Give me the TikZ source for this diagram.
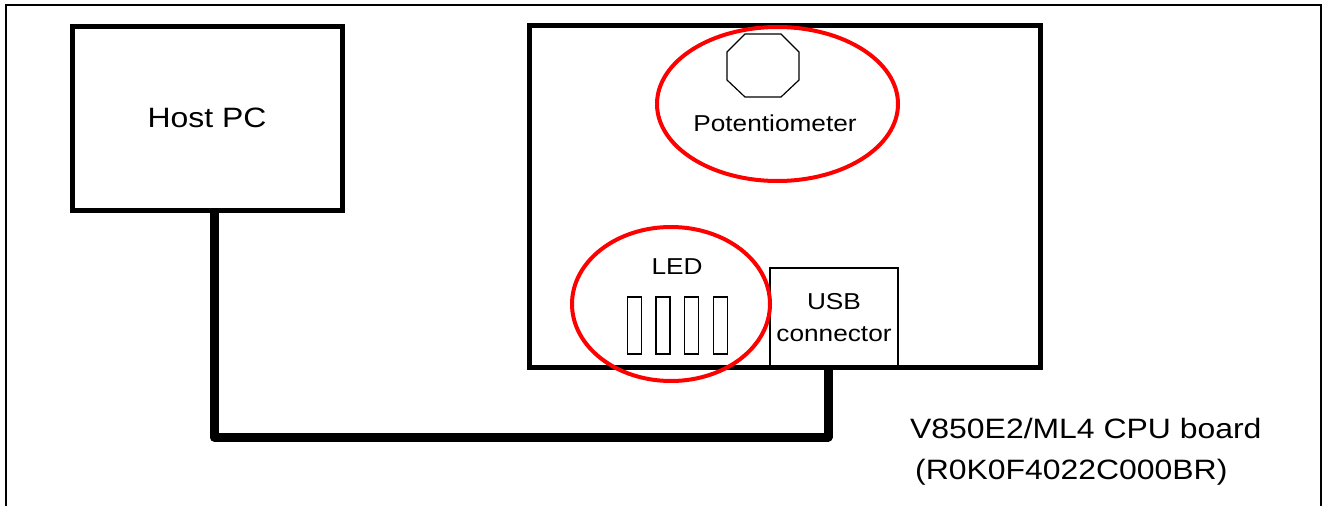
\documentclass[tikz,border=0pt]{standalone}
\usepackage{fontspec}
\setmainfont{Liberation Sans}[FakeStretch=1.14]
\usetikzlibrary{positioning}

\begin{document}
\begin{tikzpicture}[
    x=1pt, y=-1pt,
    box style/.style={draw, line width=5pt, inner sep=0pt},
    part style/.style={draw, line width=1.5pt, inner sep=0pt},
    led style/.style={draw, line width=1.2pt, inner sep=0pt,
        minimum width=14pt, minimum height=57pt},
    ring style/.style={draw=red, line width=4pt},
    cable style/.style={draw, line width=9pt, line join=round},
    big text/.style={font=\fontsize{28}{41}\selectfont},
    small text/.style={font=\fontsize{23}{32}\selectfont}
]

% SAME BOUNDING BOX
\path[use as bounding box] (0,0) rectangle (1326,506);

% FRAME
\draw[line width=2pt] (5.5,506) -- (5.5,5) -- (1321,5) -- (1321,506);

\node[box style, big text, minimum width=270pt, minimum height=184pt] (host) at (207,118) {Host PC};
\node[box style, minimum width=511pt, minimum height=342pt] (board) at (784.5,196) {};
\node[part style, small text, align=center, minimum width=128pt, minimum height=99pt] (usb) at (834,317.5) {USB\\connector};

% LED
\node[small text] (led label) at (677,267) {LED};
\foreach \i in {1,...,4}
    \node[led style] (led\i) at ({605.5+28.7*\i},325.5) {};

% POTENTIOMETER
\draw[line width=1.2pt] (745,34) -- (781,34) -- (799,52) -- (799,80) -- (781,97)
    -- (745,97) -- (727,80) -- (727,52) -- cycle;
\node[small text] (pot label) at (775,123) {Potentiometer};

\draw[ring style] (777.5,104) ellipse [x radius=120.5pt, y radius=77pt];
\draw[ring style] (671,304) ellipse [x radius=99pt, y radius=77pt];

% CABLE
\coordinate (bend) at (214,437);
\coordinate (plug) at (828,437);
\draw[cable style] (bend |- host.south) -- (bend) -- (plug) -- (plug |- board.south);

\node[big text, anchor=north west, inner sep=0pt, align=left] (caption) at (910,418.5)
    {V850E2/ML4 CPU board\\\hspace*{5pt}(R0K0F4022C000BR)};

\end{tikzpicture}
\end{document}
